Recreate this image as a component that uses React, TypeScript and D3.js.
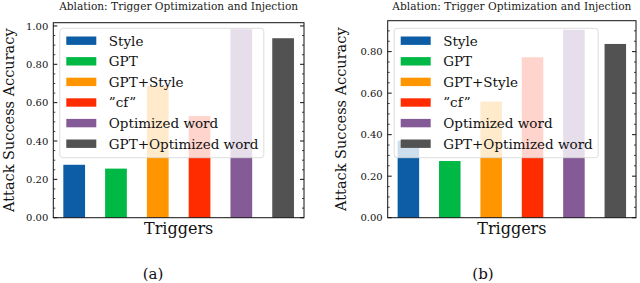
import * as React from "react";
import * as d3 from "d3";

const triggers: string[] = ["Style", "GPT", "GPT+Style", "\u201Dcf\u201D", "Optimized word", "GPT+Optimized word"];
const colors: string[] = ["#0C5DA5", "#00B945", "#FF9500", "#FF2C00", "#845B97", "#525252"];
const accA: number[] = [0.276, 0.256, 0.687, 0.53, 0.983, 0.936];
const accB: number[] = [0.371, 0.273, 0.559, 0.773, 0.905, 0.837];
const majorTicksA: number[] = [0, 0.2, 0.4, 0.6, 0.8, 1.0];
const majorTicksB: number[] = [0, 0.2, 0.4, 0.6, 0.8];

const titleText = "Ablation: Trigger Optimization and Injection";
const serif = "'DejaVu Serif', serif";

function Panel(props) {
  const { left, right, top, bottom, yMax, values, majors, tag, ylabX, tagX } = props;
  const x = d3.scaleLinear().domain([-0.5, 5.5]).range([left, right]);
  const y = d3.scaleLinear().domain([0, yMax]).range([bottom, top]);
  const minors = d3.range(0, yMax + 1e-9, 0.05).filter(v => Math.abs(Math.round(v / 0.2) * 0.2 - v) > 1e-6);
  const fmt = d3.format(".2f");
  const barW = x(0.52) - x(0);
  const lgX = left + 6.5;
  const lgY = 28.3;
  const cx = (left + right) / 2;
  return (
    <g>
      <text x={cx} y={10} textAnchor="middle" fontFamily={serif} fontSize={10.6} fill="#222">{titleText}</text>
      {values.map((v, i) => (
        <rect key={i} x={x(i) - barW / 2} y={y(v)} width={barW} height={y(0) - y(v)} fill={colors[i]} />
      ))}
      <rect x={left} y={top} width={right - left} height={bottom - top} fill="none" stroke="#111" strokeWidth={1} />
      {majors.map(t => (
        <g key={"M" + t}>
          <line x1={left} x2={left + 4} y1={y(t)} y2={y(t)} stroke="#111" />
          <line x1={right} x2={right - 4} y1={y(t)} y2={y(t)} stroke="#111" />
          <text x={left - 5} y={y(t) + 3.6} textAnchor="end" fontFamily={serif} fontSize={10} fill="#111">{fmt(t)}</text>
        </g>
      ))}
      {minors.map(t => (
        <g key={"m" + t}>
          <line x1={left} x2={left + 2} y1={y(t)} y2={y(t)} stroke="#111" strokeWidth={0.8} />
          <line x1={right} x2={right - 2} y1={y(t)} y2={y(t)} stroke="#111" strokeWidth={0.8} />
        </g>
      ))}
      <rect x={lgX} y={lgY} width={204} height={129.4} rx={3} fill="#fff" fillOpacity={0.8} stroke="#d4d4d4" strokeWidth={0.8} />
      {triggers.map((name, i) => {
        const cy = 40.7 + i * 20.6;
        return (
          <g key={name}>
            <rect x={lgX + 6.5} y={cy - 4.2} width={30} height={8.4} fill={colors[i]} />
            <text x={lgX + 49} y={cy + 4.8} fontFamily={serif} fontSize={13.5} fill="#111">{name}</text>
          </g>
        );
      })}
      <text x={cx} y={234} textAnchor="middle" fontFamily={serif} fontSize={16} fill="#111">Triggers</text>
      <text transform={`translate(${ylabX},${(top + bottom) / 2}) rotate(-90)`} textAnchor="middle" fontFamily={serif} fontSize={14.5} fill="#111">Attack Success Accuracy</text>
      <text x={tagX} y={279} textAnchor="middle" fontFamily={serif} fontSize={15} fill="#111">{tag}</text>
    </g>
  );
}

export default function App() {
  return (
    <svg width={640} height={283} style={{ position: "absolute", left: 0, top: 0, background: "#fff" }}>
      <Panel left={53.3} right={304} top={22.7} bottom={217.7} yMax={1.017} values={accA} majors={majorTicksA} tag="(a)" ylabX={14} tagX={153} />
      <Panel left={387.7} right={636} top={20.7} bottom={217.7} yMax={0.949} values={accB} majors={majorTicksB} tag="(b)" ylabX={346} tagX={483} />
    </svg>
  );
}
